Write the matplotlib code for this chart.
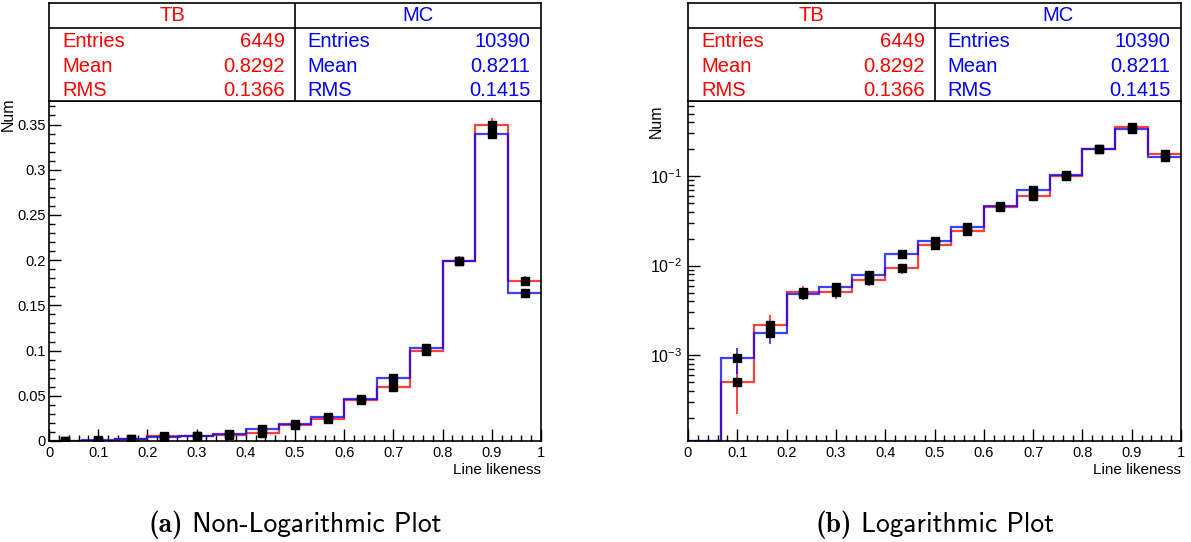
import numpy as np
import matplotlib
matplotlib.use("Agg")
import matplotlib.pyplot as plt
from matplotlib.ticker import FuncFormatter, MultipleLocator, LogLocator, NullFormatter

plt.rcParams["font.family"] = ["Liberation Sans", "DejaVu Sans"]
plt.rcParams["mathtext.fontset"] = "custom"
plt.rcParams["mathtext.rm"] = "Liberation Sans"
plt.rcParams["mathtext.default"] = "regular"

# ---- data: normalised line-likeness distributions (15 bins on [0, 1]) ----
bin_edges = np.linspace(0.0, 1.0, 16)
tb_values = [0.0, 0.0005, 0.0022, 0.0051, 0.0051, 0.0070, 0.0093, 0.0172,
             0.0241, 0.045, 0.060, 0.099, 0.199, 0.350, 0.177]
mc_values = [0.0, 0.00092, 0.00175, 0.0048, 0.0057, 0.0079, 0.0136, 0.019,
             0.0267, 0.046, 0.070, 0.103, 0.199, 0.340, 0.164]
tb_entries = 6449
mc_entries = 10390
tb_stats = [("Entries", "6449"), ("Mean", "0.8292"), ("RMS", "0.1366")]
mc_stats = [("Entries", "10390"), ("Mean", "0.8211"), ("RMS", "0.1415")]
x_label = "Line likeness"
y_label = "Num"
captions = [("(a)", "Non-Logarithmic Plot"), ("(b)", "Logarithmic Plot")]

W, H = 1191, 542
fig = plt.figure(figsize=(W / 100, H / 100), dpi=100)

RED = "#ff0000"
BLUE = "#0000ff"


def px_rect(x0, y_top, x1, y_bot):
    return [x0 / W, 1 - y_bot / H, (x1 - x0) / W, (y_bot - y_top) / H]


def stats_box(rect):
    ax = fig.add_axes(rect)
    ax.set_xlim(0, 1)
    ax.set_ylim(0, 1)
    ax.set_xticks([])
    ax.set_yticks([])
    for s in ax.spines.values():
        s.set_linewidth(1.2)
    ax.axvline(0.5, color="black", lw=1.2)
    ax.axhline(0.745, color="black", lw=1.2)
    fs = 14.5
    ax.text(0.25, 0.868, "TB", color=RED, ha="center", va="center", fontsize=fs)
    ax.text(0.75, 0.868, "MC", color=BLUE, ha="center", va="center", fontsize=fs)
    rows_y = [0.612, 0.357, 0.110]
    for (lab, val), y in zip(tb_stats, rows_y):
        ax.text(0.028, y, lab, color=RED, ha="left", va="center", fontsize=fs)
        ax.text(0.480, y, val, color=RED, ha="right", va="center", fontsize=fs)
    for (lab, val), y in zip(mc_stats, rows_y):
        ax.text(0.526, y, lab, color=BLUE, ha="left", va="center", fontsize=fs)
        ax.text(0.978, y, val, color=BLUE, ha="right", va="center", fontsize=fs)


def draw_hist(ax, log):
    centers = 0.5 * (bin_edges[:-1] + bin_edges[1:])
    ymin = ax.get_ylim()[0]
    for vals, n, col in ((tb_values, tb_entries, RED), (mc_values, mc_entries, BLUE)):
        v = np.asarray(vals, dtype=float)
        err = np.sqrt(v / n)
        step_v = np.where(v > 0, v, ymin) if log else v
        ax.stairs(step_v, bin_edges, color=col, lw=1.6, alpha=0.75, baseline=None, zorder=2)
        mask = v > 0 if log else np.ones_like(v, dtype=bool)
        ax.errorbar(centers[mask], v[mask], yerr=err[mask], fmt="none",
                    ecolor=col, elinewidth=1.2, alpha=0.85, zorder=3)
        ax.plot(centers[mask], v[mask], "s", color="black", ms=6, zorder=4)


def style_axes(ax):
    ax.set_xlim(0, 1)
    for s in ax.spines.values():
        s.set_linewidth(1.2)
    ax.tick_params(which="both", direction="in", top=False, right=False,
                   labelsize=10.5, width=1.0)
    ax.tick_params(which="major", length=8.5)
    ax.tick_params(which="minor", length=4.3)
    ax.tick_params(axis="x", which="major", pad=3.5)
    ax.xaxis.set_major_locator(MultipleLocator(0.1))
    ax.xaxis.set_minor_locator(MultipleLocator(0.02))
    ax.xaxis.set_major_formatter(FuncFormatter(lambda v, p: "%g" % round(v, 3)))
    ax.text(1.0, -0.085, x_label, transform=ax.transAxes, ha="right", va="center",
            fontsize=11)


# ---- linear panel ----
axL = fig.add_axes(px_rect(49, 101, 541, 441))
axL.set_ylim(0, 0.376)
style_axes(axL)
axL.yaxis.set_major_locator(MultipleLocator(0.05))
axL.yaxis.set_minor_locator(MultipleLocator(0.01))
axL.yaxis.set_major_formatter(FuncFormatter(lambda v, p: "%g" % round(v, 3)))
axL.tick_params(axis="y", pad=2.5)
draw_hist(axL, log=False)
axL.text(-0.083, 1.01, y_label, transform=axL.transAxes, rotation=90,
         ha="center", va="top", fontsize=11.5)
stats_box(px_rect(49, 3, 541, 101))

# ---- logarithmic panel ----
axR = fig.add_axes(px_rect(688, 101, 1181, 441))
axR.set_yscale("log")
axR.set_ylim(1.1e-4, 0.69)
style_axes(axR)
axR.yaxis.set_major_locator(LogLocator(base=10, numticks=10))
axR.yaxis.set_minor_locator(LogLocator(base=10, subs=np.arange(2, 10), numticks=10))
axR.yaxis.set_minor_formatter(NullFormatter())
axR.yaxis.set_major_formatter(FuncFormatter(
    lambda v, p: "$10^{%d}$" % int(round(np.log10(v)))))
axR.tick_params(axis="y", pad=4, labelsize=11.5)
draw_hist(axR, log=True)
axR.text(-0.064, 0.99, y_label, transform=axR.transAxes, rotation=90,
         ha="center", va="top", fontsize=11.5)
stats_box(px_rect(688, 3, 1181, 101))

# ---- captions under each panel ----
fig.canvas.draw()
renderer = fig.canvas.get_renderer()
cap_size = 19.8
for (tag, body), (x0, x1) in zip(captions, ((49, 541), (688, 1181))):
    t1 = fig.text(0, 0, tag, family="cmb10", fontsize=cap_size, va="baseline")
    t2 = fig.text(0, 0, " " + body, family="cmss10", fontsize=cap_size, va="baseline")
    w1 = t1.get_window_extent(renderer).width
    w2 = t2.get_window_extent(renderer).width
    start = 0.5 * (x0 + x1) - 0.5 * (w1 + w2)
    base_y = 1 - 532 / H
    t1.set_position((start / W, base_y))
    t2.set_position(((start + w1) / W, base_y))

fig.savefig("out.png", dpi=100, facecolor="white")
